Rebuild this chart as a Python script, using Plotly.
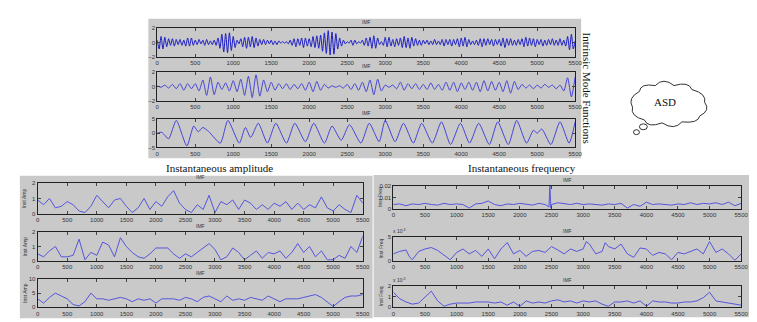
import plotly.graph_objects as go

W, H = 757, 322

# ---- data ----
# IMF 1 (top row), one value every 25 samples
imf1 = [0.3,-0.9,0.8,-0.9,0.7,-0.6,0.5,-0.4,0.5,-0.5,0.4,-0.3,0.4,-0.4,0.3,-0.5,0.6,-0.5,0.6,-0.4,
        0.3,-0.3,0.4,-0.2,0.3,-0.4,0.4,-0.3,0.2,-0.3,0.3,-0.4,0.6,-0.8,1.1,-1.3,1.2,-1.4,1.3,-1.1,
        0.8,-0.7,0.3,-0.2,0.5,-0.6,0.7,-0.8,0.7,-0.6,0.8,-0.7,0.6,-0.5,0.4,-0.3,0.4,-0.3,0.3,-0.2,
        0.3,-0.3,0.2,-0.3,0.2,-0.1,0.1,-0.1,0.1,-0.2,0.3,-0.4,0.5,-0.6,0.5,-0.4,0.6,-0.7,0.6,-0.5,
        0.5,-0.6,0.8,-0.7,0.9,-0.8,1.0,-1.2,1.3,-1.5,1.6,-1.7,1.4,-1.6,1.2,-0.9,0.6,-0.5,0.3,-0.2,
        0.1,-0.1,0.3,-0.4,0.3,-0.2,0.1,-0.1,0.3,-0.4,0.6,-0.5,0.7,-0.8,0.9,-0.8,0.6,-0.3,0.1,-0.4,
        0.7,-0.6,0.7,-0.5,0.4,-0.6,0.5,-0.4,0.6,-0.7,0.8,-0.7,0.6,-0.8,0.7,-0.5,0.5,-0.4,0.3,-0.4,
        0.3,-0.2,0.3,-0.3,0.2,-0.3,0.4,-0.3,0.2,-0.3,0.4,-0.5,0.4,-0.3,0.4,-0.5,0.4,-0.3,0.5,-0.6,
        0.6,-0.5,0.7,-0.6,0.4,-0.3,0.2,-0.3,0.3,-0.4,0.5,-0.6,0.5,-0.4,0.5,-0.3,0.4,-0.5,0.4,-0.3,
        0.4,-0.5,0.6,-0.7,0.5,-0.4,0.5,-0.4,0.3,-0.4,0.4,-0.3,0.5,-0.6,0.7,-0.5,0.6,-0.4,0.5,-0.6,
        0.4,-0.3,0.4,-0.5,0.3,-0.4,0.4,-0.3,0.5,-0.4,0.3,-0.4,0.5,-0.4,0.3,-0.5,0.8,-1.0,1.1,-0.9,
        0.2]
imf1_x = list(range(0, 5501, 25))

# IMF 2, one value every 50 samples
imf2 = [0.1,-0.1,0.2,-0.2,0.3,-0.3,0.4,-0.5,0.4,-0.3,
        0.4,-0.6,0.9,-1.2,1.3,-1.1,0.6,-0.4,0.5,-0.6,
        0.8,-0.7,1.0,-1.2,1.4,-1.5,1.6,-1.3,0.9,-0.7,
        0.6,-0.5,0.4,-0.3,0.4,-0.4,0.3,-0.3,0.4,-0.5,
        0.6,-0.7,0.7,-0.5,0.3,-0.2,0.1,-0.1,0.1,-0.2,
        0.3,-0.4,0.4,-0.5,0.6,-0.7,0.9,-1.1,1.0,-0.6,
        0.2,-0.1,0.2,-0.3,0.6,-0.5,0.4,-0.3,0.4,-0.4,
        0.3,-0.4,0.5,-0.4,0.3,-0.5,0.6,-0.5,0.6,-0.7,
        0.5,-0.4,0.6,-0.5,0.6,-0.7,0.8,-0.6,0.7,-0.5,
        0.6,-0.7,0.8,-0.9,0.7,-0.4,0.3,-0.2,0.2,-0.3,
        0.2,-0.2,0.3,-0.1,0.2,-0.3,0.2,-0.6,1.2,-1.4,
        1.3]
imf2_x = list(range(0, 5501, 50))

# IMF 3, turning points
imf3_x = [0,60,150,250,390,480,540,600,680,830,930,1080,1160,1230,1330,1450,1560,1700,1810,1950,
          2060,2200,2300,2420,2530,2680,2790,2920,3000,3130,3240,3370,3480,3620,3740,3860,3990,
          4110,4230,4370,4480,4620,4730,4860,4950,5000,5060,5180,5300,5420,5500]
imf3 = [0,0.3,-2,4.5,-4.5,2.5,0.5,2,0.5,-3.5,4.5,-3.5,2,-1.5,3.5,-3.5,3.5,-3.5,3.5,-3,
        3.5,-3.5,2.5,-2.5,3,-3.5,3.5,-3,4.5,-3,3.5,-3.5,3.5,-3.5,4,-4,3.5,
        -3.5,3.5,-4,4,-4,4.5,-3.5,1,0,1.5,-4,4,-3.5,4]

# instantaneous amplitude, one value every 100 samples
grid_x = list(range(0, 5501, 100))
amp1 = [0.9,0.6,1.0,0.4,0.5,0.8,0.6,0.2,0.1,0.5,1.2,0.8,0.4,0.9,1.0,0.5,0.1,0.4,1.0,0.3,
        0.8,0.5,1.1,1.5,0.7,0.3,0.1,0.6,0.3,1.2,0.1,0.8,0.6,0.9,0.3,0.9,0.7,0.3,0.6,0.3,
        0.7,0.5,0.8,0.3,0.7,0.3,0.6,0.4,1.1,0.4,0.2,0.6,0.3,0.1,1.2,0.7]
amp2 = [0.5,0.3,0.7,1.0,0.3,0.3,0.4,1.5,0.1,0.6,0.4,1.3,1.1,0.3,1.6,1.0,0.6,0.3,0.2,0.5,
        0.9,0.9,0.9,0.5,0.2,0.5,0.3,0.6,0.9,1.2,0.8,0.1,0.3,0.9,0.6,0.1,0.4,0.7,0.2,0.6,
        0.5,0.7,0.2,0.6,1.2,0.6,1.0,0.3,0.7,0.1,0.1,0.4,0.2,1.0,0.6,1.7]
amp3 = [3.0,1.5,3.5,5.0,4.0,3.0,1.0,0.5,2.0,5.0,3.0,3.0,2.5,3.0,3.5,3.0,2.0,3.0,2.5,3.0,
        1.5,3.0,3.0,3.0,2.5,3.5,3.0,2.0,3.5,4.0,3.0,2.0,4.0,2.5,3.0,2.5,3.5,3.0,2.5,4.0,
        3.0,2.0,3.0,3.0,3.0,3.5,4.0,4.5,3.5,2.0,0.3,2.0,3.5,4.0,4.0,4.5]

# instantaneous frequency
freq1_x = [0,100,200,300,400,500,600,700,800,900,1000,1100,1200,1300,1400,1500,1600,1700,1800,1900,
           2000,2100,2200,2300,2400,2460,2475,2490,2500,2600,2700,2800,2900,3000,3100,3200,3300,3400,
           3500,3600,3700,3800,3900,4000,4100,4200,4300,4400,4500,4600,4700,4800,4900,5000,5100,5200,
           5300,5400,5500]
freq1 = [0.004,0.0045,0.003,0.0045,0.004,0.005,0.004,0.0035,0.005,0.004,0.0045,0.004,0.001,0.0045,
         0.005,0.007,0.004,0.003,0.0045,0.004,0.005,0.004,0.0035,0.005,0.004,0.002,0.02,0.001,0.004,
         0.0055,0.0045,0.004,0.005,0.004,0.0045,0.004,0.0035,0.0045,0.004,0.005,0.001,0.004,0.0025,
         0.006,0.004,0.0045,0.004,0.0035,0.0045,0.004,0.0055,0.004,0.005,0.0045,0.0055,0.004,0.006,
         0.003,0.005]
freq2_x = [0,100,200,250,300,400,500,600,700,800,900,1000,1100,1200,1300,1400,1500,1600,1700,1800,
           1900,2000,2100,2200,2300,2400,2500,2600,2700,2800,2900,3000,3050,3100,3200,3300,3350,3400,
           3500,3600,3700,3800,3900,4000,4100,4200,4300,4400,4500,4600,4700,4800,4900,5000,5100,5200,
           5300,5400,5500]
freq2 = [1.5,2.0,2.3,1.0,0.3,2.0,2.5,2.8,2.2,1.2,0.3,1.8,2.5,1.5,2.2,1.0,2.5,0.5,2.5,3.8,
         1.5,2.2,1.0,2.0,2.2,1.8,3.0,2.3,1.5,2.5,2.0,2.5,4.0,3.5,1.5,2.0,3.8,3.0,
         2.5,3.5,1.5,0.8,2.7,2.5,1.2,1.8,1.5,0.3,1.8,1.5,2.0,2.5,1.5,4.0,1.8,2.5,
         1.5,0.2,1.5]  # x 10^-3
freq3 = [1.4,0.8,0.5,0.3,0.4,1.0,1.5,0.6,0.1,0.3,0.4,0.4,0.4,0.5,0.5,0.5,0.4,0.5,0.2,0.5,
         0.1,0.6,0.4,0.5,0.4,0.6,0.7,0.5,0.6,0.4,0.6,0.5,0.6,0.3,0.1,0.5,0.5,0.6,0.4,0.6,
         0.1,0.6,0.5,0.5,0.4,0.4,0.5,0.5,0.6,0.9,1.4,0.6,0.5,0.4,0.3,0.2]  # x 10^-3

xticks = list(range(0, 5501, 500))

# ---- layout helpers (pixel -> paper) ----
def px(v):
    return v / W

def py(v):
    return 1 - v / H

# (x, y, yrange, yticks, xleft, xright, ytop, ybottom, colour, ytitle, shape)
panels = [
    (imf1_x, imf1, [-2, 2], [-2, 0, 2], 149, 572, 17, 47, "#1a1ac8", None, "spline"),
    (imf2_x, imf2, [-2, 2], [-2, 0, 2], 149, 572, 62, 92, "#4545d8", None, "spline"),
    (imf3_x, imf3, [-5, 5], [-5, 0, 5], 149, 572, 110, 139, "#4545d8", None, "spline"),
    (grid_x, amp1, [0, 2], [0, 1, 2], 28, 357, 175, 207, "#5555dd", "Inst Amp", "linear"),
    (grid_x, amp2, [0, 2], [0, 1, 2], 28, 357, 225, 255, "#5555dd", "Inst Amp", "linear"),
    (grid_x, amp3, [0, 10], [0, 5, 10], 28, 357, 273, 302, "#5555dd", "Inst Amp", "linear"),
    (freq1_x, freq1, [0, 0.02], [0, 0.01, 0.02], 388, 740, 178, 202, "#5555dd", "Inst Freq", "linear"),
    (freq2_x, freq2, [0, 5], [0, 5], 388, 740, 230, 255, "#5555dd", "Inst Freq", "linear"),
    (grid_x, freq3, [0, 2], [0, 1, 2], 388, 740, 280, 302, "#5555dd", "Inst Freq", "linear"),
]

fig = go.Figure()
tickfont = dict(family="Liberation Sans", size=6, color="#333")
smallfont = dict(family="Liberation Sans", size=5, color="#333")
annotations = []
layout_axes = {}


def note(text, x, y, font, xa="center", ya="middle", angle=0):
    annotations.append(dict(text=text, x=px(x), y=py(y), xref="paper", yref="paper",
                            showarrow=False, xanchor=xa, yanchor=ya, textangle=angle,
                            font=font))


for i, (xs, ys, yr, yt, xl, xr, yt_px, yb_px, col, ytitle, shp) in enumerate(panels):
    n = "" if i == 0 else str(i + 1)
    fig.add_trace(go.Scatter(x=xs, y=ys, mode="lines", xaxis="x" + n, yaxis="y" + n,
                             line=dict(color=col, width=1, shape=shp, smoothing=0.6),
                             showlegend=False, hoverinfo="skip"))
    layout_axes["xaxis" + n] = dict(domain=[px(xl), px(xr)], anchor="y" + n, range=[0, 5500],
                                    tickvals=xticks, ticks="inside", ticklen=3, showline=True,
                                    linecolor="#222", linewidth=1, mirror="allticks",
                                    showgrid=False, zeroline=False, tickfont=tickfont)
    layout_axes["yaxis" + n] = dict(domain=[py(yb_px), py(yt_px)], anchor="x" + n, range=yr,
                                    tickvals=yt, ticks="inside", ticklen=3, showline=True,
                                    linecolor="#222", linewidth=1, mirror="allticks",
                                    showgrid=False, zeroline=False, tickfont=tickfont)
    note("IMF", (xl + xr) / 2, yt_px - 1, smallfont, ya="bottom")
    if ytitle:
        note(ytitle, xl - 13, (yt_px + yb_px) / 2, smallfont, angle=-90)

# exponent labels on the small frequency axes
for ytop in (230, 280):
    note("x 10<sup>-3</sup>", 386, ytop - 1, smallfont, xa="left", ya="bottom")

serif = "Liberation Serif"
note("Instantaneous amplitude", 212, 160, dict(family=serif, size=11, color="#111"))
note("Instantaneous frequency", 518, 160, dict(family=serif, size=11, color="#111"))
note("Intrinsic Mode Functions", 584, 78, dict(family=serif, size=11, color="#111"), angle=90)
note("ASD", 663, 93, dict(family=serif, size=11, color="#111"))

# grey figure backgrounds
shapes = []
for x0, x1, y0, y1 in [(140, 578, 8, 150), (10, 367, 168, 313), (368, 752, 167, 312)]:
    shapes.append(dict(type="rect", xref="paper", yref="paper", x0=px(x0), x1=px(x1),
                       y0=py(y1), y1=py(y0), fillcolor="#c9c9c9", line=dict(width=0),
                       layer="below"))

# thought cloud
cx, cy = 665, 95
pts = [(630, 98), (637, 82), (653, 76), (672, 76), (690, 80), (703, 93), (698, 107),
       (680, 113), (660, 114), (642, 111), (630, 98)]
path = "M %f,%f" % (px(pts[0][0]), py(pts[0][1]))
for (ax, ay), (bx, by) in zip(pts[:-1], pts[1:]):
    mx, my = (ax + bx) / 2, (ay + by) / 2
    dxm, dym = mx - cx, my - cy
    d = (dxm ** 2 + dym ** 2) ** 0.5
    qx, qy = mx + dxm / d * 9, my + dym / d * 9
    path += " Q %f,%f %f,%f" % (px(qx), py(qy), px(bx), py(by))
path += " Z"
shapes.append(dict(type="path", xref="paper", yref="paper", path=path,
                   fillcolor="white", line=dict(color="#333", width=1)))
for x0, x1, y0, y1 in [(637, 645, 115, 121), (631, 637, 121, 126)]:
    shapes.append(dict(type="circle", xref="paper", yref="paper", x0=px(x0), x1=px(x1),
                       y0=py(y1), y1=py(y0), fillcolor="white", line=dict(color="#333", width=1)))

fig.update_layout(width=W, height=H, margin=dict(l=0, r=0, t=0, b=0),
                  paper_bgcolor="white", plot_bgcolor="white",
                  annotations=annotations, shapes=shapes, **layout_axes)

fig.write_html("out.html")
